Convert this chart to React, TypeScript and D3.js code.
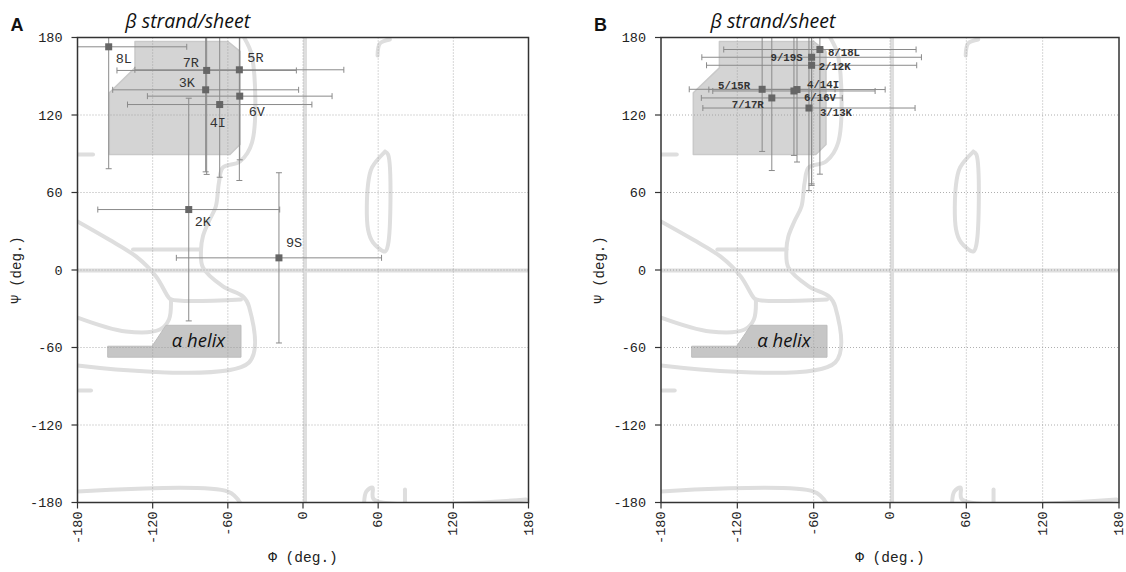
import { useEffect, useRef } from 'react';
import * as d3 from 'd3';

const tickValues = [-180, -120, -60, 0, 60, 120, 180];
const gridValues = [-120, -60, 0, 60, 120];

// panel A: residues of the single peptide
const labelsA = ['8L', '7R', '5R', '3K', '6V', '4I', '2K', '9S'];
const phiA = [-155.1, -76.9, -50.8, -77.7, -50.5, -66.5, -91.2, -19.2];
const psiA = [172.8, 154.5, 155.0, 139.5, 134.6, 128.1, 46.8, 9.4];
const sdPhiA = [62.3, 71.6, 83.4, 74.2, 73.7, 73.6, 72.6, 81.9];
const sdPsiA = [94.4, 80.5, 85.7, 63.5, 49.3, 56.3, 86.2, 65.9];

// panel B: paired residues
const labelsB = ['8/18L', '9/19S', '2/12K', '5/15R', '4/14I', '6/16V', '7/17R', '3/13K'];
const phiB = [-55.1, -61.6, -61.6, -100.5, -73.1, -75.5, -92.9, -63.7];
const psiB = [170.7, 164.7, 158.5, 139.9, 139.7, 138.6, 133.2, 125.4];
const sdPhiB = [75.6, 86.3, 82.6, 57.3, 69.3, 63.8, 55.4, 83.4];
const sdPsiB = [96.5, 98.0, 93.0, 48.1, 56.1, 49.9, 56.2, 64.0];

// label placement (px offset from the point, anchor)
const labelPosA: [number, number, string][] = [
  [7, 16, 'start'], [-24, -3, 'start'], [8, -8, 'start'], [-27, -3, 'start'],
  [9, 20, 'start'], [-10, 22, 'start'], [6, 16, 'start'], [7, -11, 'start'],
];
const labelPosB: [number, number, string][] = [
  [8, 6, 'start'], [-9, 4, 'end'], [7, 5, 'start'], [-12, 0, 'end'],
  [10, -2, 'start'], [10, 10, 'start'], [-8, 10, 'end'], [11, 8, 'start'],
];

// Ramachandran background regions (phi, psi)
const betaFill = [[-154.6, 89.4], [-154.6, 137.2], [-134.1, 156.5], [-134.1, 176.9], [-59.9, 176.9], [-50.3, 169.2], [-50.3, 97.2], [-58.3, 89.4]];
const alphaFill = [[-155.9, -59.0], [-120.5, -59.0], [-109.4, -42.8], [-49.5, -42.8], [-49.5, -67.5], [-155.9, -67.5]];
const contours = [
  [[-47.1, 180], [-40.7, 165.3], [-40.7, 98.7], [-50.3, 84.0], [-63.9, 79.4], [-67.1, 67.7], [-69.6, 49.2], [-75.2, 37.6], [-79.9, 26.0], [-81.4, 15.9], [-79.9, 2.0], [-63.9, -12.7], [-47.9, -20.5], [-43.1, -28.2], [-43.1, -71.6], [-180, -73.9]],
  [[-180, 37.6], [-154.9, 23.6], [-133.3, 10.5], [-117.3, -5.0], [-107.8, -20.5], [-105.4, -22.8], [-49.5, -22.8]],
  [[-135.7, 15.9], [-81.4, 15.9]],
  [[-105.4, -22.8], [-107.0, -38.3], [-114.2, -46.1], [-141.3, -47.6], [-180, -36.8]],
  [[65.5, 91.7], [55.1, 79.4], [51.9, 66.2], [51.9, 31.4], [55.9, 21.3], [65.5, 14.3], [67.9, 19.7], [67.9, 89.4], [65.5, 91.7]],
  [[59.5, 166], [61.5, 175.5], [69.4, 178.5]],
  [[1.6, 180], [1.6, -180]],
  [[-180, -0.4], [180, -0.4]],
  [[-180, -171.5], [-59.9, -171.5], [-50.3, -180]],
  [[48.8, -180], [50.5, -171.5], [55.5, -168.4], [56.7, -177.7], [178, -177.7]],
  [[81.4, -170], [81.4, -180]],
  [[-180, 89.4], [-167.6, 89.4]],
  [[-178.8, -93.3], [-169.2, -93.3]],
];

const panels = [
  { letter: 'A', left: 77.5, right: 528.5, labels: labelsA, phi: phiA, psi: psiA, sdPhi: sdPhiA, sdPsi: sdPsiA, pos: labelPosA, fs: 13.5, fw: 'normal' },
  { letter: 'B', left: 661, right: 1119, labels: labelsB, phi: phiB, psi: psiB, sdPhi: sdPhiB, sdPsi: sdPsiB, pos: labelPosB, fs: 10.7, fw: 'bold' },
];

const top = 37.5;
const bottom = 502.5;
const mono = '"Liberation Mono", "DejaVu Sans Mono", monospace';
const sans = '"Open Sans", "Noto Sans", sans-serif';

const App = () => {
  const svgRef = useRef<SVGSVGElement>(null);

  useEffect(() => {
    const svg = d3.select(svgRef.current);
    svg.selectAll('*').remove();

    panels.forEach((p, pi) => {
      const x = d3.scaleLinear().domain([-180, 180]).range([p.left, p.right]);
      const y = d3.scaleLinear().domain([-180, 180]).range([bottom, top]);
      const g = svg.append('g');
      const clipId = 'clip' + pi;

      g.append('clipPath').attr('id', clipId)
        .append('rect')
        .attr('x', p.left).attr('y', top)
        .attr('width', p.right - p.left).attr('height', bottom - top);

      const plot = g.append('g').attr('clip-path', `url(#${clipId})`);

      const line = d3.line<number[]>().x(d => x(d[0])).y(d => y(d[1]));
      const smooth = d3.line<number[]>().x(d => x(d[0])).y(d => y(d[1])).curve(d3.curveCatmullRom.alpha(0.5));

      // background contours
      plot.selectAll('.contour')
        .data(contours)
        .enter().append('path')
        .attr('class', 'contour')
        .attr('fill', 'none')
        .attr('stroke', '#dedede')
        .attr('stroke-width', 4)
        .attr('stroke-linejoin', 'round')
        .attr('stroke-linecap', 'round')
        .attr('d', d => smooth(d));

      plot.append('path')
        .attr('d', line(betaFill) + 'Z')
        .attr('fill', '#d4d4d4')
        .attr('stroke', '#c9c9c9')
        .attr('stroke-width', 1.5)
        .attr('stroke-linejoin', 'round');

      plot.append('path')
        .attr('d', line(alphaFill) + 'Z')
        .attr('fill', '#c6c6c6')
        .attr('stroke', '#bdbdbd')
        .attr('stroke-width', 1);

      // dotted grid
      plot.selectAll('.vgrid')
        .data(gridValues)
        .enter().append('line')
        .attr('x1', d => x(d)).attr('x2', d => x(d))
        .attr('y1', top).attr('y2', bottom)
        .attr('stroke', '#9a9a9a').attr('stroke-width', 0.8)
        .attr('stroke-dasharray', '1,2');

      plot.selectAll('.hgrid')
        .data(gridValues)
        .enter().append('line')
        .attr('y1', d => y(d)).attr('y2', d => y(d))
        .attr('x1', p.left).attr('x2', p.right)
        .attr('stroke', '#9a9a9a').attr('stroke-width', 0.8)
        .attr('stroke-dasharray', '1,2');

      // region names
      g.append('text')
        .attr('x', x(-92)).attr('y', 28)
        .attr('text-anchor', 'middle')
        .attr('font-family', sans).attr('font-style', 'italic')
        .attr('font-size', 19.5).attr('fill', '#111')
        .text('β strand/sheet');

      g.append('text')
        .attr('x', x(-83.4)).attr('y', 347)
        .attr('text-anchor', 'middle')
        .attr('font-family', sans).attr('font-style', 'italic')
        .attr('font-size', 18.5).attr('fill', '#111')
        .text('α helix');

      const idx = d3.range(p.labels.length);

      // error bars
      const bars = plot.selectAll('.err')
        .data(idx)
        .enter().append('g')
        .attr('stroke', '#8a8a8a')
        .attr('stroke-width', 1);

      bars.append('line')
        .attr('x1', i => x(p.phi[i] - p.sdPhi[i])).attr('x2', i => x(p.phi[i] + p.sdPhi[i]))
        .attr('y1', i => y(p.psi[i])).attr('y2', i => y(p.psi[i]));
      bars.append('line')
        .attr('x1', i => x(p.phi[i])).attr('x2', i => x(p.phi[i]))
        .attr('y1', i => y(p.psi[i] - p.sdPsi[i])).attr('y2', i => y(p.psi[i] + p.sdPsi[i]));

      const caps: { x1: number, y1: number, x2: number, y2: number }[] = [];
      idx.forEach(i => {
        [-1, 1].forEach(s => {
          const px = p.phi[i] + s * p.sdPhi[i];
          if (px >= -180 && px <= 180) caps.push({ x1: x(px), x2: x(px), y1: y(p.psi[i]) - 3, y2: y(p.psi[i]) + 3 });
          const py = p.psi[i] + s * p.sdPsi[i];
          if (py >= -180 && py <= 180) caps.push({ x1: x(p.phi[i]) - 3, x2: x(p.phi[i]) + 3, y1: y(py), y2: y(py) });
        });
      });
      plot.selectAll('.cap')
        .data(caps)
        .enter().append('line')
        .attr('x1', d => d.x1).attr('x2', d => d.x2)
        .attr('y1', d => d.y1).attr('y2', d => d.y2)
        .attr('stroke', '#8a8a8a').attr('stroke-width', 1);

      // points
      plot.selectAll('.pt')
        .data(idx)
        .enter().append('rect')
        .attr('x', i => x(p.phi[i]) - 3.5)
        .attr('y', i => y(p.psi[i]) - 3.5)
        .attr('width', 7).attr('height', 7)
        .attr('fill', '#666');

      g.selectAll('.lbl')
        .data(idx)
        .enter().append('text')
        .attr('x', i => x(p.phi[i]) + p.pos[i][0])
        .attr('y', i => y(p.psi[i]) + p.pos[i][1])
        .attr('text-anchor', i => p.pos[i][2])
        .attr('font-family', mono)
        .attr('font-size', p.fs)
        .attr('font-weight', p.fw)
        .attr('fill', '#333')
        .text(i => p.labels[i]);

      // frame
      g.append('rect')
        .attr('x', p.left).attr('y', top)
        .attr('width', p.right - p.left).attr('height', bottom - top)
        .attr('fill', 'none').attr('stroke', '#333').attr('stroke-width', 1.5);

      // ticks
      g.selectAll('.ytick')
        .data(tickValues)
        .enter().append('line')
        .attr('x1', p.left - 6).attr('x2', p.left)
        .attr('y1', d => y(d)).attr('y2', d => y(d))
        .attr('stroke', '#333').attr('stroke-width', 1.2);

      g.selectAll('.ylab')
        .data(tickValues)
        .enter().append('text')
        .attr('x', p.left - 15)
        .attr('y', d => y(d))
        .attr('dy', '0.35em')
        .attr('text-anchor', 'end')
        .attr('font-family', mono).attr('font-size', 13.5)
        .attr('fill', '#222')
        .text(d => d);

      g.selectAll('.xtick')
        .data(tickValues)
        .enter().append('line')
        .attr('x1', d => x(d)).attr('x2', d => x(d))
        .attr('y1', bottom).attr('y2', bottom + 6)
        .attr('stroke', '#333').attr('stroke-width', 1.2);

      g.selectAll('.xlab')
        .data(tickValues)
        .enter().append('text')
        .attr('transform', d => `translate(${x(d)},${bottom + 9}) rotate(-90)`)
        .attr('dy', '0.3em')
        .attr('text-anchor', 'end')
        .attr('font-family', mono).attr('font-size', 13.5)
        .attr('fill', '#222')
        .text(d => d);

      g.append('text')
        .attr('x', (p.left + p.right) / 2).attr('y', 562)
        .attr('text-anchor', 'middle')
        .attr('font-family', mono).attr('font-size', 14.5)
        .attr('fill', '#222')
        .text('Φ (deg.)');

      g.append('text')
        .attr('transform', `translate(${p.left - 57},${(top + bottom) / 2}) rotate(-90)`)
        .attr('text-anchor', 'middle')
        .attr('font-family', mono).attr('font-size', 14)
        .attr('fill', '#222')
        .text('Ψ (deg.)');

      g.append('text')
        .attr('x', p.left - 67).attr('y', 31)
        .attr('font-family', '"Liberation Sans", Arial, sans-serif')
        .attr('font-weight', 'bold').attr('font-size', 18)
        .attr('fill', '#111')
        .text(p.letter);
    });
  }, []);

  return (
    <div>
      <svg ref={svgRef} width={1126} height={572} style={{ position: 'absolute', left: 0, top: 0, background: '#fff' }} />
    </div>
  );
};

export default App;
